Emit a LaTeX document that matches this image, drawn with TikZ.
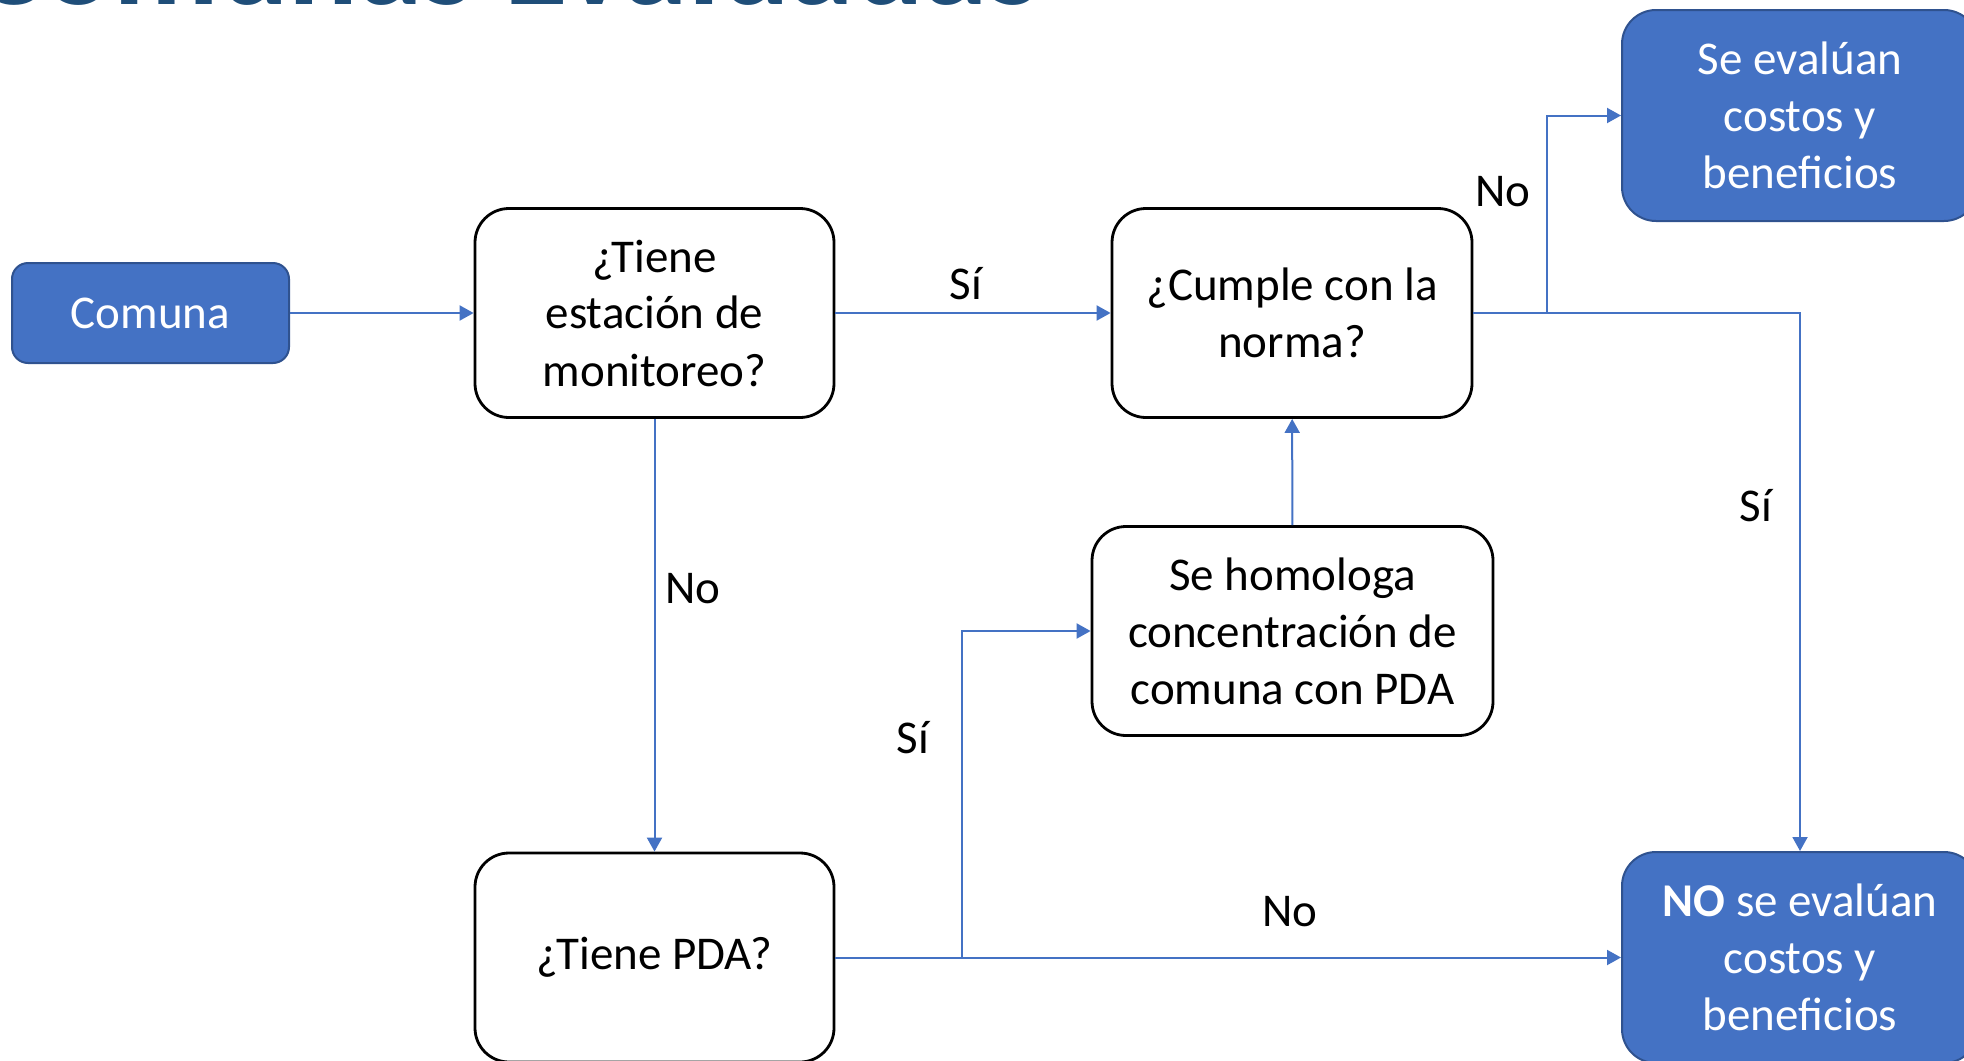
\documentclass[tikz,border=0pt]{standalone}
\usepackage{fontspec}
\setmainfont{Carlito}
\usepackage{tikz}
\usetikzlibrary{positioning,
        arrows.meta}
\usepackage{xcolor}
\definecolor{boxblue}{HTML}{4472C4}
\definecolor{boxedge}{HTML}{2F528F}
\definecolor{titleblue}{HTML}{1F4E79}

\begin{document}
\begin{tikzpicture}[x=0.5pt,y=-0.5pt,
        question/.style={rectangle,draw,line width=1.4pt,rounded corners=17pt,align=center,inner sep=0pt,minimum width=179.5pt,minimum height=104.5pt,font=\fontsize{23.5}{28.5}\selectfont},
        result/.style={rectangle,draw=boxedge,fill=boxblue,line width=1pt,rounded corners=17pt,align=center,inner sep=0pt,text=white,minimum width=178pt,minimum height=105.5pt,font=\fontsize{23.5}{28.5}\selectfont},
        answer/.style={inner sep=0pt,font=\fontsize{23.5}{28.5}\selectfont},
        link/.style={draw=boxblue,line width=1pt,-{Triangle[length=7pt,width=7.5pt]}}]
        \useasboundingbox (0,0) rectangle (1964,1060);
        \clip (0,0) rectangle (1964,1060);

        \node [anchor=base east,inner sep=0pt,text=titleblue,font=\fontsize{65}{70}\selectfont\bfseries] (0) at (1040,4) {Comunas Evaluadas};

        \node [result,rounded corners=8pt,minimum width=138.5pt,minimum height=50pt] (1) at (150.5,313) {Comuna};
        \node [question] (2) at (654.5,313) {¿Tiene\\estación de\\monitoreo?};
        \node [question,minimum width=180pt] (3) at (1292,313) {¿Cumple con la\\norma?};
        \node [result] (4) at (1800,115.5) {Se evalúan\\costos y\\beneficios};
        \node [question,minimum width=200.5pt] (5) at (1292.5,631) {Se homologa\\concentración de\\comuna con PDA};
        \node [question] (6) at (654.5,957.5) {¿Tiene PDA?};
        \node [result] (7) at (1800,957.5) {\textbf{NO} se evalúan\\costos y\\beneficios};

        \node [answer] (8) at (966,284) {Sí};
        \node [answer] (9) at (693,589) {No};
        \node [answer] (10) at (913,738) {Sí};
        \node [answer] (11) at (1290,912) {No};
        \node [answer] (12) at (1503,192) {No};
        \node [answer] (13) at (1756,506) {Sí};

        \coordinate (a) at (962,957.5);
        \coordinate (b) at (1547,313);

        \draw [link] (1) -- (2);
        \draw [link] (2) -- (3);
        \draw [link] (2) -- (6);
        \draw [link] (6) -- (7);
        \draw [link] (a) |- (5.west);
        \draw [link] (5) -- (3);
        \draw [link] (3.east) -- (b) |- (4.west);
        \draw [link] (3.east) -| (7.north);
\end{tikzpicture}
\end{document}
